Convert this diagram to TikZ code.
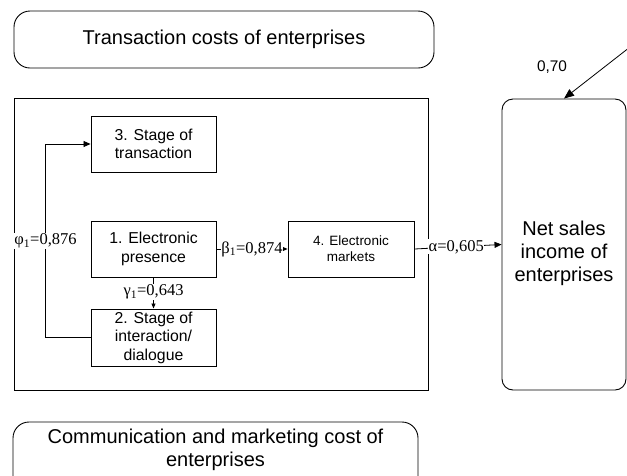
\documentclass[tikz,border=0pt]{standalone}
\usepackage{fontspec}
\setmainfont{Liberation Sans}
\newfontfamily\tms{Liberation Serif}
\usetikzlibrary{arrows.meta}
\begin{document}
\begin{tikzpicture}[x=1pt,y=-1pt,
  every node/.style={inner sep=0pt},
  boxline/.style={draw=black, line width=0.9pt},
  stagebox/.style={boxline, minimum width=125pt, minimum height=56pt, align=center,
    font=\fontsize{15.8}{18.5}\selectfont},
  roundbox/.style={boxline, rounded corners=16pt},
  coef/.style={fill=white, font=\tms\fontsize{16.5}{16.5}\selectfont, inner sep=0.6pt},
  conn/.style={line width=0.8pt, -{Triangle[length=7pt,width=6pt]}},
  bigtext/.style={align=center, font=\fontsize{20}{23}\selectfont},
]
\useasboundingbox (0,0) rectangle (627,475);

% top rounded box
\node[roundbox, minimum width=420pt, minimum height=57pt, bigtext] (tc) at (224,39.5)
  {Transaction costs of enterprises};

% frame
\node[boxline, minimum width=414pt, minimum height=292pt] (frame) at (221,244) {};

% net sales box
\node[boxline, rounded corners=11pt, minimum width=124pt, minimum height=291pt] (ns) at (564,244.5) {};
\node[bigtext] (nstext) at (564,253) {Net sales\\income of\\enterprises};

% bottom rounded box (cut by picture edge)
\draw[roundbox] (13,422) rectangle (418,495);
\node[bigtext] (cmc) at (215.5,450) {Communication and marketing cost of\\enterprises};

% stage boxes
\node[stagebox] (s3) at (153.5,144) {3. Stage of\\transaction};
\node[stagebox] (s1) at (153.5,249) {1. Electronic\\presence};
\node[stagebox, minimum height=57pt] (s2) at (153.5,337.5) {2. Stage of\\interaction/\\dialogue};
\node[stagebox, minimum width=126pt, font=\fontsize{13.5}{16}\selectfont] (s4) at (351,249) {4. Electronic\\markets};

% connectors
\draw[conn] (s2.west) -- ++(-45,0) |- (s3.west)
  node[coef, pos=0.25] (phi) {φ\textsubscript{1}=0,876};
\draw[line width=0.8pt, -{Triangle[length=5pt,width=4pt]}] (s1.south) -- (s2.north)
  node[coef, midway, yshift=1pt] (gam) {γ\textsubscript{1}=0,643};
\draw[conn] (s1.east) -- (s4.west)
  node[coef, midway] (bet) {β\textsubscript{1}=0,874};
\draw[conn] (s4.east) -- (ns.west)
  node[coef, pos=0.48] (alp) {α=0,605};

% 0,70 arrow
\coordinate (src) at (680,8);
\draw[line width=0.8pt, -{Triangle[length=10pt,width=8pt]}] (src) -- (ns.north);
\node[font=\fontsize{15.4}{17}\selectfont] (c70) at (552,67) {0,70};
\end{tikzpicture}
\end{document}
